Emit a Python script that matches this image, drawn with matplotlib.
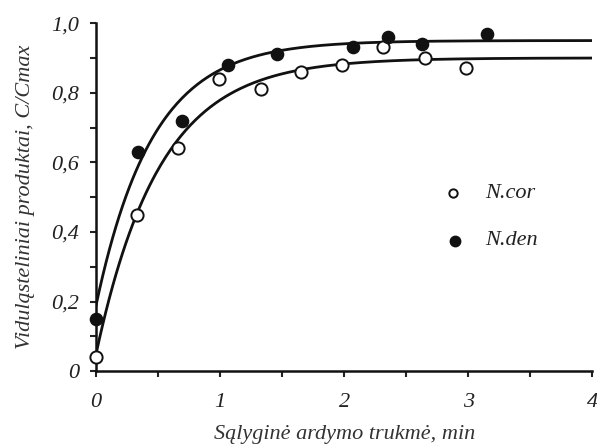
import numpy as np
import matplotlib
matplotlib.use('Agg')
import matplotlib.pyplot as plt
from matplotlib.ticker import MultipleLocator, FuncFormatter

cor_x = [0.0, 0.33, 0.66, 0.99, 1.33, 1.65, 1.98, 2.31, 2.65, 2.98]
cor_y = [0.04, 0.45, 0.64, 0.84, 0.81, 0.86, 0.88, 0.93, 0.90, 0.87]

den_x = [0.0, 0.34, 0.69, 1.06, 1.46, 2.07, 2.35, 2.63, 3.15]
den_y = [0.15, 0.63, 0.72, 0.88, 0.91, 0.93, 0.96, 0.94, 0.97]

# fitted saturation curves: y = a - (a - y0) * exp(-k * t)
cor_fit = (0.90, 0.05, 1.95)
den_fit = (0.95, 0.19, 2.2)

plt.rcParams['font.family'] = ['Liberation Serif', 'DejaVu Serif']
plt.rcParams['font.style'] = 'italic'


def curve(params, t):
    a, y0, k = params
    return a - (a - y0) * np.exp(-k * t)


fig = plt.figure(figsize=(5.97, 4.45), dpi=100)
ax = fig.add_axes([0.161, 0.166, 0.831, 0.782])

t = np.linspace(0, 4, 300)
ax.plot(t, curve(den_fit, t), color='#111111', lw=2.0, zorder=2)
ax.plot(t, curve(cor_fit, t), color='#111111', lw=2.0, zorder=2)

ax.plot(cor_x, cor_y, 'o', ms=8.8, mfc='white', mec='#111111', mew=1.4,
        zorder=3, clip_on=False)
ax.plot(den_x, den_y, 'o', ms=8.8, mfc='#111111', mec='#111111', mew=1.0,
        zorder=3, clip_on=False)

# legend drawn by hand to keep the loose layout of the original
ax.plot([2.88], [0.511], 'o', ms=6, mfc='white', mec='#111111', mew=1.4)
ax.plot([2.89], [0.374], 'o', ms=7.5, mfc='#111111', mec='#111111')
ax.text(3.14, 0.511, 'N.cor', fontsize=16, va='center', color='#222222')
ax.text(3.14, 0.374, 'N.den', fontsize=16, va='center', color='#222222')

ax.set_xlim(0, 4)
ax.set_ylim(0, 1.0)
ax.xaxis.set_major_locator(MultipleLocator(0.5))
ax.yaxis.set_major_locator(MultipleLocator(0.1))


def xfmt(v, pos):
    return '%d' % round(v) if abs(v - round(v)) < 1e-6 else ''


def yfmt(v, pos):
    n = int(round(v * 10))
    if n % 2:
        return ''
    if n == 0:
        return '0'
    return ('%.1f' % v).replace('.', ',')


ax.xaxis.set_major_formatter(FuncFormatter(xfmt))
ax.yaxis.set_major_formatter(FuncFormatter(yfmt))
ax.tick_params(axis='both', direction='out', length=4, width=1.5,
               labelsize=16, colors='#222222')
ax.tick_params(axis='x', pad=12)
ax.tick_params(axis='y', pad=8)

for s in ['top', 'right']:
    ax.spines[s].set_visible(False)
for s in ['left', 'bottom']:
    ax.spines[s].set_linewidth(1.8)
    ax.spines[s].set_color('#111111')

ax.set_xlabel('Sąlyginė ardymo trukmė, min', fontsize=16, color='#333333',
              labelpad=9)
ax.set_ylabel('Viduląsteliniai produktai, C/Cmax', fontsize=16,
              color='#333333', labelpad=12)

fig.savefig('out.png', dpi=100)
